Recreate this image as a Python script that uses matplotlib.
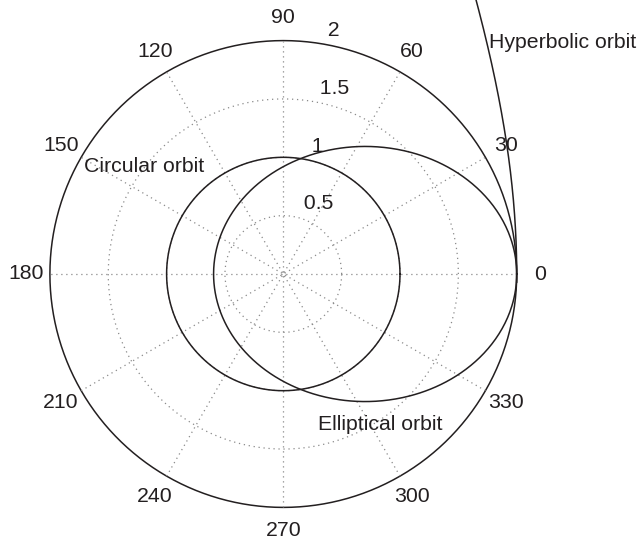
import matplotlib
matplotlib.use('Agg')
import matplotlib.pyplot as plt
import numpy as np

# orbit parameters, r = p / (1 + e*cos(theta)) style conics
circ_p, circ_e = 1.0, 0.0
ell_p, ell_e = 0.92, -0.54      # apoapsis on the 0 deg side
hyp_p, hyp_e = 7.0, 2.5
hyp_range = (-2, 56)           # degrees drawn for the hyperbola branch

rmax = 2.0
rticks = [0.5, 1.0, 1.5, 2.0]
rtick_labels = ['0.5', '1', '1.5', '2']
spoke_deg = [30, 60, 90, 120, 150, 180]
labels = ['Circular orbit', 'Elliptical orbit', 'Hyperbolic orbit']

fg = '#231f20'
grid_col = '#8a8a8a'
plt.rcParams['font.family'] = ['Liberation Sans', 'DejaVu Sans']
fs = 15.3

fig = plt.figure(figsize=(6.37, 5.40), dpi=100)
ax = fig.add_axes([0, 0, 1, 1])
scale = 116.7   # pixels per unit
cx, cy = 283.3, 274.0
ax.set_xlim(-cx / scale, (637 - cx) / scale)
ax.set_ylim((cy - 540) / scale, cy / scale)
ax.axis('off')

t = np.linspace(0, 2 * np.pi, 721)
# dotted range circles, outer one solid
for rv, lab in zip(rticks, rtick_labels):
    if rv == rmax:
        ax.plot(rv * np.cos(t), rv * np.sin(t), color=fg, lw=1.1)
    else:
        ax.plot(rv * np.cos(t), rv * np.sin(t), color=grid_col, lw=0.9,
                ls=(0, (1, 3)))
    rr = rv + 0.5 / 20
    a82 = np.deg2rad(82)
    ax.text(rr * np.cos(a82), rr * np.sin(a82), '  ' + lab, ha='left',
            va='bottom', fontsize=fs, color=fg)

# spokes and angle labels
for d in spoke_deg:
    a = np.deg2rad(d)
    ax.plot([-rmax * np.cos(a), rmax * np.cos(a)],
            [-rmax * np.sin(a), rmax * np.sin(a)], color=grid_col, lw=0.9,
            ls=(0, (1, 3)))
    rt = 1.1 * rmax
    ax.text(rt * np.cos(a), rt * np.sin(a), str(d), ha='center',
            va='center', fontsize=fs, color=fg)
    opp = 0 if d == 180 else 180 + d
    ax.text(-rt * np.cos(a), -rt * np.sin(a), str(opp), ha='center',
            va='center', fontsize=fs, color=fg)

# orbits
r = circ_p / (1 + circ_e * np.cos(t))
ax.plot(r * np.cos(t), r * np.sin(t), color=fg, lw=1.1)
r = ell_p / (1 + ell_e * np.cos(t))
ax.plot(r * np.cos(t), r * np.sin(t), color=fg, lw=1.1)
th = np.deg2rad(np.linspace(hyp_range[0], hyp_range[1], 300))
r = hyp_p / (1 + hyp_e * np.cos(th))
ax.plot(r * np.cos(th), r * np.sin(th), color=fg, lw=1.1, clip_on=False)

# curve labels
ax.text((84 - cx) / scale, (cy - 167) / scale, labels[0], ha='left',
        va='center', fontsize=fs, color=fg)
ax.text((318 - cx) / scale, (cy - 424) / scale, labels[1], ha='left',
        va='center', fontsize=fs, color=fg)
ax.text((489 - cx) / scale, (cy - 42) / scale, labels[2], ha='left',
        va='center', fontsize=fs, color=fg)

plt.savefig('out.png', dpi=100)
